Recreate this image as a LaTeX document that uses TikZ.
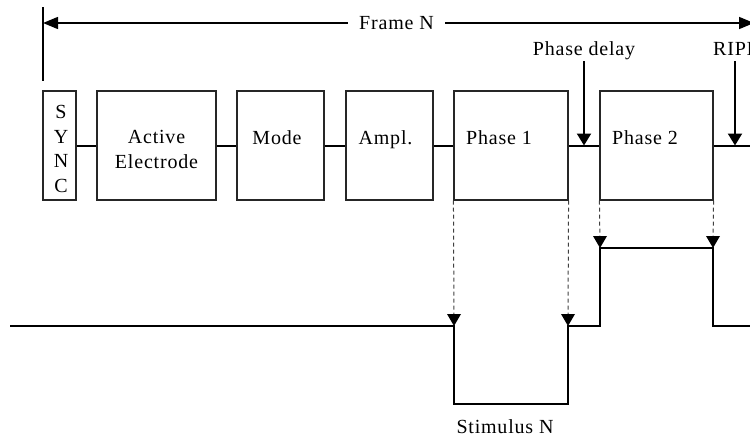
\documentclass[tikz,border=0pt]{standalone}
\usepackage{fontspec}
\setmainfont[LetterSpace=4]{Liberation Serif}
\usetikzlibrary{arrows.meta}
\begin{document}
\begin{tikzpicture}[x=1pt,y=-1pt,
  blk/.style={draw=black!85, line width=1.1pt, minimum height=109pt, inner sep=0pt},
  lbl/.style={font=\fontsize{20}{24.5}\selectfont, inner sep=0pt},
  link/.style={line width=2pt},
  wave/.style={line width=2pt},
  tip/.style={-{Triangle[length=12pt,width=14pt]}},
  guide/.style={draw=black!75, line width=1pt, dash pattern=on 4pt off 3pt}
]
\useasboundingbox (0,0) rectangle (750,442);

% frame marker and frame span arrow
\coordinate (fstart) at (43,7);
\coordinate (fend) at (43,81);
\draw[line width=2pt] (fstart) -- (fend);
\coordinate (fl) at (43,23);
\coordinate (fr) at (754,23);
\draw[line width=1.5pt, {Triangle[length=15pt,width=12pt]}-{Triangle[length=15pt,width=12pt]}] (fl) -- (fr);
\node[lbl, anchor=base, fill=white, inner xsep=11pt, inner ysep=4pt] (frame) at (396.5,29) {Frame N};

% blocks of one frame
\node[blk, minimum width=33pt]  (sync)   at (59.5,145.5) {};
\node[blk, minimum width=119pt] (active) at (156.5,145.5) {};
\node[blk, minimum width=87pt]  (mode)   at (280.5,145.5) {};
\node[blk, minimum width=87pt]  (ampl)   at (389.5,145.5) {};
\node[blk, minimum width=114pt] (ph1)    at (511,145.5) {};
\node[blk, minimum width=113pt] (ph2)    at (656.5,145.5) {};

\node[lbl, align=center] (tsync) at (61,149) {S\\Y\\N\\C};
\node[lbl, align=center] (tactive) at (156.5,149.5) {Active\\Electrode};
\node[lbl, anchor=base] (tmode) at (277,144) {Mode};
\node[lbl, anchor=base] (tampl) at (385.5,144) {Ampl.};
\node[lbl, anchor=base] (tph1) at (499,144) {Phase 1};
\node[lbl, anchor=base] (tph2) at (645,144) {Phase 2};

% links between blocks
\coordinate (rend) at (750,145.5);
\draw[link] (sync.east) -- (active.west);
\draw[link] (active.east) -- (mode.west);
\draw[link] (mode.east) -- (ampl.west);
\draw[link] (ampl.east) -- (ph1.west);
\draw[link] (ph1.east) -- (ph2.west);
\draw[link] (ph2.east) -- (rend);

% annotations
\node[lbl, anchor=base] (tdelay) at (584,55) {Phase delay};
\node[lbl, anchor=base west] (tripi) at (713,55) {RIPI};
\coordinate (dtip) at (584,145.5);
\coordinate (rtip) at (735,145.5);
\draw[line width=2pt, tip] (584,61) -- (dtip);
\draw[line width=2pt, tip] (735,61) -- (rtip);

% stimulus waveform
\coordinate (w0) at (10,326);
\coordinate (w1) at (454,326);
\coordinate (w2) at (454,404);
\coordinate (w3) at (568,404);
\coordinate (w4) at (568,326);
\coordinate (w5) at (600,326);
\coordinate (w6) at (600,248);
\coordinate (w7) at (713,248);
\coordinate (w8) at (713,326);
\coordinate (w9) at (750,326);
\draw[wave] (w0) -- (w1) -- (w2) -- (w3) -- (w4) -- (w5) -- (w6) -- (w7) -- (w8) -- (w9);

% projections from phase blocks onto the waveform
\draw[guide] (ph1.south west) -- (w1);
\draw[guide] (ph1.south east) -- (w4);
\draw[guide] (ph2.south west) -- (w6);
\draw[guide] (ph2.south east) -- (w7);
\fill (w1) ++(-7,-12) -- ++(14,0) -- (w1) -- cycle;
\fill (w4) ++(-7,-12) -- ++(14,0) -- (w4) -- cycle;
\fill (w6) ++(-7,-12) -- ++(14,0) -- (w6) -- cycle;
\fill (w7) ++(-7,-12) -- ++(14,0) -- (w7) -- cycle;

\node[lbl, anchor=base] (tstim) at (505,433) {Stimulus N};
\end{tikzpicture}
\end{document}
